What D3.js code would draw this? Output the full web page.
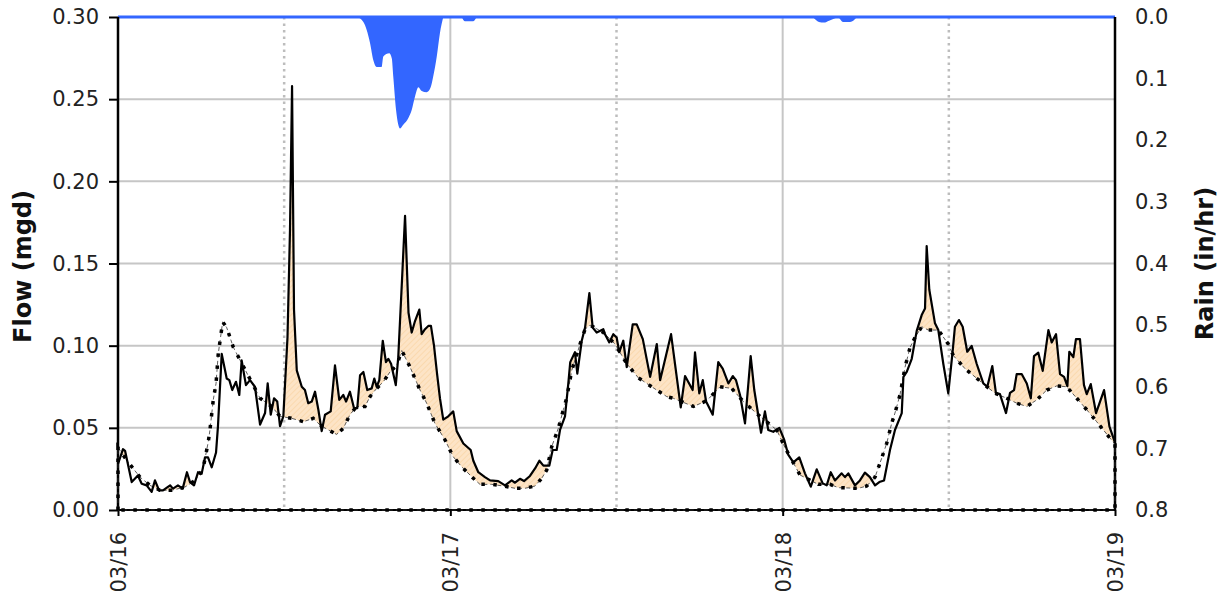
<!DOCTYPE html>
<html>
<head>
<meta charset="utf-8">
<script src="https://cdn.jsdelivr.net/npm/d3@7"></script>
<style>
  body { margin: 0; background: #fff; }
  svg { display: block; font-family: 'DejaVu Sans', sans-serif; }
  .tick text { fill: #222; }
</style>
</head>
<body>
<svg id="chart" width="1225" height="598"></svg>
<script>
// hours after 03/16 00:00, observed flow in mgd
const flowObserved = [
  [0,.028],[.36,.037],[.51,.036],[.99,.017],[1.44,.021],[1.71,.016],[2.07,.015],[2.43,.011],[2.67,.018],[2.96,.012],
  [3.25,.012],[3.76,.015],[3.97,.013],[4.33,.015],[4.67,.013],[4.98,.023],[5.2,.017],[5.49,.015],[5.78,.023],[6.04,.022],
  [6.28,.032],[6.5,.032],[6.77,.026],[7.08,.035],[7.22,.051],[7.49,.095],[7.85,.080],[8.04,.079],[8.25,.073],[8.52,.078],
  [8.76,.070],[8.93,.091],[9.24,.076],[9.53,.079],[9.89,.075],[10.26,.052],[10.62,.059],[10.81,.077],[11.03,.058],[11.27,.068],
  [11.5,.066],[11.7,.051],[11.94,.057],[12.24,.105],[12.42,.17],[12.57,.258],[12.71,.122],[12.91,.085],[13.27,.075],[13.5,.073],
  [13.74,.065],[13.99,.066],[14.23,.072],[14.47,.061],[14.71,.048],[14.95,.058],[15.36,.060],[15.67,.088],[15.98,.067],[16.27,.070],
  [16.47,.066],[16.75,.072],[17.04,.062],[17.28,.062],[17.48,.082],[17.72,.084],[18.0,.073],[18.32,.074],[18.51,.080],[18.68,.075],
  [18.87,.079],[19.12,.103],[19.35,.090],[19.52,.092],[19.72,.089],[20.06,.076],[20.24,.093],[20.51,.14],[20.73,.179],[20.98,.120],
  [21.21,.108],[21.45,.115],[21.76,.122],[21.93,.107],[22.17,.110],[22.41,.112],[22.6,.112],[22.82,.100],[23.04,.083],[23.25,.068],
  [23.49,.055],[23.85,.057],[24.21,.060],[24.46,.048],[24.94,.0405],[25.47,.0365],[25.66,.030],[26.02,.023],[26.5,.020],[26.87,.018],
  [27.46,.0176],[27.95,.015],[28.43,.018],[28.67,.0166],[29.03,.019],[29.32,.0176],[29.75,.0207],[30.12,.0253],[30.43,.030],[30.72,.027],
  [31.15,.027],[31.39,.0365],[31.68,.0365],[31.92,.0487],[32.28,.057],[32.52,.077],[32.66,.090],[33.0,.096],[33.17,.083],[33.49,.103],
  [33.73,.111],[34.04,.132],[34.28,.111],[34.57,.108],[35.05,.110],[35.17,.107],[35.48,.102],[35.77,.107],[36.01,.105],[36.2,.096],
  [36.49,.103],[36.74,.087],[37.17,.113],[37.46,.113],[37.9,.104],[38.43,.081],[38.91,.101],[39.15,.079],[39.94,.107],[40.64,.0625],
  [40.95,.0815],[41.5,.073],[41.67,.096],[41.98,.071],[42.23,.079],[42.47,.066],[42.95,.058],[43.35,.090],[43.67,.086],[44.08,.077],
  [44.4,.0815],[44.63,.079],[44.92,.070],[45.28,.0527],[45.69,.0937],[45.95,.073],[46.44,.047],[46.72,.060],[46.96,.0487],[47.32,.0476],
  [47.76,.050],[48.1,.043],[48.41,.0335],[48.77,.029],[49.2,.032],[49.61,.0223],[50.03,.0142],[50.46,.0247],[50.89,.0162],[51.18,.015],
  [51.47,.023],[51.78,.018],[52.26,.0223],[52.5,.020],[52.74,.0223],[53.22,.015],[53.58,.018],[53.94,.0227],[54.3,.020],[54.67,.015],
  [54.98,.017],[55.32,.018],[55.75,.0365],[56.11,.0487],[56.6,.059],[56.72,.081],[56.96,.084],[57.32,.092],[57.68,.109],[58.04,.1186],
  [58.28,.1226],[58.4,.1606],[58.59,.134],[59.0,.1136],[59.24,.1095],[59.6,.089],[59.96,.071],[60.28,.097],[60.44,.1115],[60.73,.1156],
  [61.0,.1115],[61.33,.0963],[61.65,.0998],[62.01,.089],[62.49,.077],[62.78,.075],[63.14,.0876],[63.4,.0713],[63.69,.0705],[64.13,.059],
  [64.42,.0713],[64.71,.073],[64.9,.0827],[65.26,.0827],[65.63,.077],[65.92,.068],[66.15,.0937],[66.46,.0957],[66.78,.0847],[67.19,.1095],
  [67.43,.102],[67.74,.107],[68.03,.0827],[68.32,.081],[68.56,.0754],[68.7,.0963],[68.99,.093],[69.18,.104],[69.47,.104],[69.76,.076],
  [69.96,.0705],[70.25,.0766],[70.63,.059],[71.21,.073],[71.6,.0507],[72,.041]
];

// dry weather flow pattern (mgd)
const flowDry = [
  [0,.038],[.65,.030],[1.59,.020],[2.31,.015],[3.03,.012],[3.9,.012],[4.84,.014],[5.56,.018],[6.14,.025],[6.52,.0415],
  [6.64,.0487],[6.88,.067],[7.08,.077],[7.24,.095],[7.56,.1145],[7.85,.111],[8.33,.099],[10.26,.068],[11.1,.063],[11.7,.057],
  [12.54,.0558],[13.38,.0537],[14.1,.0558],[14.59,.0517],[15.19,.0487],[15.79,.046],[16.27,.0497],[16.75,.058],[17.24,.063],[17.84,.063],
  [18.2,.069],[18.68,.074],[19.16,.078],[19.64,.084],[20.13,.088],[20.49,.097],[21.09,.087],[21.81,.073],[22.29,.065],[22.89,.0527],
  [23.62,.0426],[24.21,.0324],[24.82,.0263],[25.66,.0193],[26.14,.0156],[26.99,.0156],[27.83,.0146],[28.67,.0132],[29.39,.0132],[30.12,.0146],
  [30.6,.0193],[30.96,.0243],[31.32,.0385],[31.8,.0497],[32.16,.061],[32.4,.068],[32.77,.085],[33.37,.101],[33.73,.110],[34.09,.1125],
  [35.05,.108],[35.89,.101],[36.74,.089],[37.58,.0804],[38.54,.075],[39.63,.069],[40.1,.068],[41.55,.063],[42.52,.0665],[43.48,.075],
  [44.32,.074],[45.16,.066],[46.36,.057],[47.57,.0487],[48.17,.038],[49.25,.0213],[50.57,.0156],[51.42,.0156],[52.02,.0136],[53.46,.0132],
  [54.07,.0146],[54.67,.020],[55.15,.0315],[55.51,.0405],[55.87,.0527],[56.11,.059],[56.47,.070],[56.84,.087],[57.2,.099],[57.56,.105],
  [58.04,.1115],[58.52,.1095],[59.24,.1095],[59.96,.101],[60.32,.094],[61.17,.086],[61.89,.081],[62.61,.076],[63.34,.071],[64.18,.068],
  [64.9,.065],[65.63,.063],[66.35,.067],[67.07,.073],[67.79,.0755],[68.51,.075],[69.24,.068],[69.96,.061],[70.68,.0537],[72,.040]
];

// rainfall intensity (in/hr), zero outside these events
const rainEvents = [
  [[17.28,0],[17.72,.008],[17.96,.021],[18.2,.042],[18.44,.070],[18.68,.081],[19.04,.081],[19.16,.064],[19.59,.059],[19.77,.067],
   [19.88,.097],[20.08,.151],[20.37,.181],[20.6,.175],[20.97,.164],[21.21,.151],[21.45,.129],[21.69,.114],[21.93,.120],[22.29,.122],
   [22.58,.114],[22.76,.097],[23.02,.064],[23.25,.026],[23.49,0]],
  [[24.82,0],[25.06,.007],[25.64,.007],[25.9,0]],
  [[50.19,0],[50.62,.008],[50.98,.009],[51.35,.006],[51.78,.002],[52.0,.001],[52.36,.008],[52.87,.008],[53.37,0]]
];

const flowTicks = [0, .05, .10, .15, .20, .25, .30];
const rainTicks = [0, .1, .2, .3, .4, .5, .6, .7, .8];
const dayTicks = [0, 24, 48, 72];
const noonLines = [12, 36, 60];

const margin = { top: 17, right: 110, bottom: 88, left: 118 };
const width = 1225, height = 598;

const base = new Date(2024, 2, 16);
const toDate = h => new Date(base.getTime() + h * 3600e3);

const svg = d3.select('#chart');

const x = d3.scaleTime()
  .domain([toDate(0), toDate(72)])
  .range([margin.left, width - margin.right]);
const yFlow = d3.scaleLinear()
  .domain([0, 0.3])
  .range([height - margin.bottom, margin.top]);
const yRain = d3.scaleLinear()
  .domain([0, 0.8])
  .range([margin.top, height - margin.bottom]);

// hatch pattern for the I/I fill
const defs = svg.append('defs');
const pat = defs.append('pattern')
  .attr('id', 'hatch')
  .attr('patternUnits', 'userSpaceOnUse')
  .attr('width', 4).attr('height', 4)
  .attr('patternTransform', 'rotate(45)');
pat.append('rect').attr('width', 4).attr('height', 4).attr('fill', '#fde4c6');
pat.append('line').attr('x1', 0).attr('y1', 0).attr('x2', 0).attr('y2', 4)
  .attr('stroke', '#f9d6a8').attr('stroke-width', 1.5);

// gridlines
const grid = svg.append('g');
grid.selectAll('.hgrid')
  .data(flowTicks.slice(1, -1))
  .enter().append('line')
    .attr('x1', margin.left).attr('x2', width - margin.right)
    .attr('y1', d => yFlow(d)).attr('y2', d => yFlow(d))
    .attr('stroke', '#c6c6c6').attr('stroke-width', 2);
grid.selectAll('.vgrid')
  .data(dayTicks.slice(1, -1))
  .enter().append('line')
    .attr('x1', d => x(toDate(d))).attr('x2', d => x(toDate(d)))
    .attr('y1', margin.top).attr('y2', height - margin.bottom)
    .attr('stroke', '#c6c6c6').attr('stroke-width', 2);
grid.selectAll('.ngrid')
  .data(noonLines)
  .enter().append('line')
    .attr('x1', d => x(toDate(d))).attr('x2', d => x(toDate(d)))
    .attr('y1', margin.top).attr('y2', height - margin.bottom)
    .attr('stroke', '#bdbdbd').attr('stroke-width', 2.5)
    .attr('stroke-dasharray', '2.5,4');

// interpolate a piecewise series at hour h
function interp(series, h) {
  const i = d3.bisector(d => d[0]).left(series, h);
  if (i <= 0) return series[0][1];
  if (i >= series.length) return series[series.length - 1][1];
  const a = series[i - 1], b = series[i];
  const t = (h - a[0]) / (b[0] - a[0]);
  return a[1] + t * (b[1] - a[1]);
}

// fill where observed flow exceeds dry weather flow
const hours = Array.from(new Set(flowObserved.map(d => d[0]).concat(flowDry.map(d => d[0])))).sort((a, b) => a - b);
const fillPts = [];
hours.forEach((h, i) => {
  if (i > 0) {
    const h0 = hours[i - 1];
    const d0 = interp(flowObserved, h0) - interp(flowDry, h0);
    const d1 = interp(flowObserved, h) - interp(flowDry, h);
    if (d0 * d1 < 0) {
      const hc = h0 + (h - h0) * d0 / (d0 - d1);
      const v = interp(flowDry, hc);
      fillPts.push({ h: hc, lo: v, hi: v });
    }
  }
  const f = interp(flowObserved, h), w = interp(flowDry, h);
  fillPts.push({ h, lo: w, hi: Math.max(f, w) });
});

svg.append('path')
  .datum(fillPts)
  .attr('fill', 'url(#hatch)')
  .attr('d', d3.area()
    .x(d => x(toDate(d.h)))
    .y0(d => yFlow(d.lo))
    .y1(d => yFlow(d.hi)));

// rain hanging from the top
const rainArea = d3.area()
  .x(d => x(toDate(d[0])))
  .y0(yRain(0))
  .y1(d => yRain(d[1]))
  .curve(d3.curveMonotoneX);
svg.selectAll('.rain')
  .data(rainEvents)
  .enter().append('path')
    .attr('class', 'rain')
    .attr('fill', '#3366ff')
    .attr('d', rainArea);
svg.append('line')
  .attr('x1', x(toDate(0))).attr('x2', x(toDate(72)))
  .attr('y1', yRain(0)).attr('y2', yRain(0))
  .attr('stroke', '#3366ff').attr('stroke-width', 3);

// dry weather flow, closed down to zero at both ends
const dryClosed = [[0, 0]].concat(flowDry, [[72, 0], [0, 0]]);
const flowLine = d3.line()
  .x(d => x(toDate(d[0])))
  .y(d => yFlow(d[1]));

// axes
const yAxisL = d3.axisLeft(yFlow)
  .tickValues(flowTicks)
  .tickFormat(d3.format('.2f'))
  .tickSize(9).tickPadding(10);
const gL = svg.append('g')
  .attr('transform', `translate(${margin.left},0)`)
  .call(yAxisL);

const yAxisR = d3.axisRight(yRain)
  .tickValues(rainTicks)
  .tickFormat(d3.format('.1f'))
  .tickSize(0).tickPadding(20);
const gR = svg.append('g')
  .attr('transform', `translate(${width - margin.right},0)`)
  .call(yAxisR);

const xAxis = d3.axisBottom(x)
  .tickValues(dayTicks.map(toDate))
  .tickFormat(d3.timeFormat('%m/%d'))
  .tickSize(6);
const gX = svg.append('g')
  .attr('transform', `translate(0,${height - margin.bottom})`)
  .call(xAxis);
gX.selectAll('text')
  .attr('transform', 'rotate(-90)')
  .attr('x', -22).attr('y', 0)
  .attr('dy', '0.36em')
  .attr('text-anchor', 'end');

[gL, gR, gX].forEach(g => {
  g.selectAll('text').attr('font-size', 21).attr('font-family', 'DejaVu Sans');
  g.select('.domain').attr('stroke', '#000').attr('stroke-width', 2.5);
  g.selectAll('.tick line').attr('stroke', '#000').attr('stroke-width', 2);
});
gL.select('.domain').attr('d', `M0,${margin.top}V${height - margin.bottom}`);
gR.select('.domain').attr('d', `M0,${margin.top}V${height - margin.bottom}`);
gX.select('.domain').attr('d', `M${margin.left},0H${width - margin.right}`).attr('stroke-width', 2);

svg.append('path')
  .datum(dryClosed)
  .attr('fill', 'none')
  .attr('stroke', '#333')
  .attr('stroke-width', 0.8)
  .attr('stroke-dasharray', '4,3')
  .attr('d', flowLine);
svg.append('path')
  .datum(dryClosed)
  .attr('fill', 'none')
  .attr('stroke', '#000')
  .attr('stroke-width', 3.5)
  .attr('stroke-dasharray', '3.5,8.5')
  .attr('d', flowLine);

svg.append('path')
  .datum(flowObserved)
  .attr('fill', 'none')
  .attr('stroke', '#000')
  .attr('stroke-width', 2.2)
  .attr('stroke-linejoin', 'round')
  .attr('d', flowLine);

// axis titles
svg.append('text')
  .attr('transform', `translate(31,${(margin.top + height - margin.bottom) / 2 + 3}) rotate(-90)`)
  .attr('text-anchor', 'middle')
  .attr('font-size', 24).attr('font-weight', 'bold')
  .attr('fill', '#111')
  .text('Flow (mgd)');
svg.append('text')
  .attr('transform', `translate(1213,${(margin.top + height - margin.bottom) / 2}) rotate(-90)`)
  .attr('text-anchor', 'middle')
  .attr('font-size', 24).attr('font-weight', 'bold')
  .attr('fill', '#111')
  .text('Rain (in/hr)');
</script>
</body>
</html>
